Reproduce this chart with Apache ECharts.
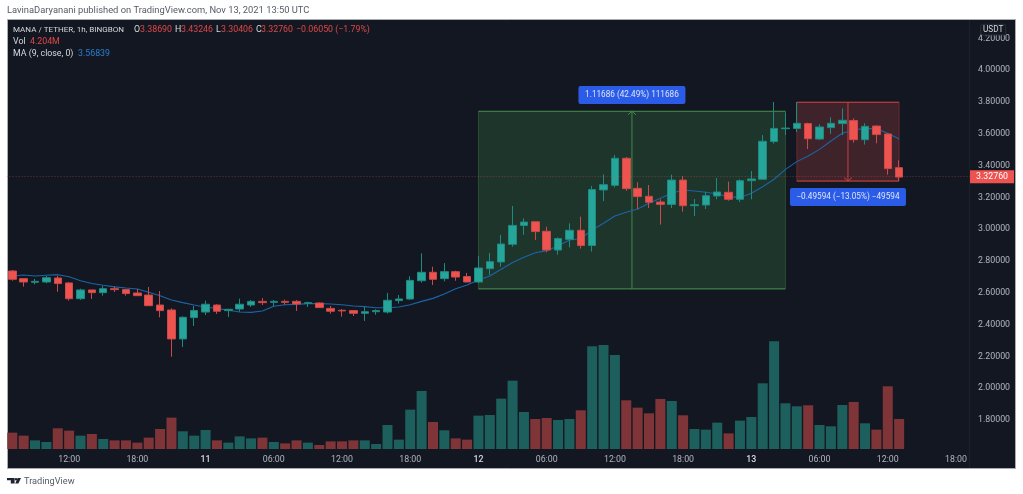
<!DOCTYPE html>
<html>
<head>
<meta charset="utf-8">
<title>MANA / TETHER</title>
<style>
  html, body { margin: 0; padding: 0; background: #fff; }
  #main { width: 1023px; height: 494px; }
</style>
</head>
<body>
<div id="main"></div>
<script src="https://cdn.jsdelivr.net/npm/echarts@6/dist/echarts.min.js"></script>
<script>
// hourly slots, Nov 10 07:00 onward (day starts are labelled with the date)
const categories = [
  '07:00','08:00','09:00','10:00','11:00','12:00','13:00','14:00','15:00','16:00','17:00','18:00',
  '19:00','20:00','21:00','22:00','23:00','11','01:00','02:00','03:00','04:00','05:00','06:00',
  '07:00','08:00','09:00','10:00','11:00','12:00','13:00','14:00','15:00','16:00','17:00','18:00',
  '19:00','20:00','21:00','22:00','23:00','12','01:00','02:00','03:00','04:00','05:00','06:00',
  '07:00','08:00','09:00','10:00','11:00','12:00','13:00','14:00','15:00','16:00','17:00','18:00',
  '19:00','20:00','21:00','22:00','23:00','13','01:00','02:00','03:00','04:00','05:00','06:00',
  '07:00','08:00','09:00','10:00','11:00','12:00','13:00','14:00','15:00','16:00','17:00','18:00',
  '19:00'
];
const timeTicks = ['06:00', '12:00', '18:00', '11', '12', '13'];
const priceTicks = [1.8, 2.0, 2.2, 2.4, 2.6, 2.8, 3.0, 3.2, 3.4, 3.6, 3.8, 4.0, 4.2];

// open, close, low, high
const candles = [
  [2.737,2.685,2.676,2.743],[2.689,2.668,2.639,2.689],[2.666,2.672,2.653,2.687],[2.668,2.695,2.660,2.706],
  [2.693,2.658,2.607,2.706],[2.662,2.563,2.551,2.666],[2.563,2.618,2.555,2.626],[2.618,2.601,2.561,2.618],
  [2.601,2.626,2.582,2.643],[2.626,2.620,2.605,2.641],[2.620,2.595,2.582,2.624],[2.599,2.582,2.582,2.624],
  [2.586,2.519,2.519,2.637],[2.523,2.488,2.446,2.611],[2.492,2.310,2.198,2.502],[2.310,2.446,2.259,2.452],
  [2.444,2.488,2.391,2.517],[2.479,2.528,2.460,2.551],[2.523,2.484,2.467,2.528],[2.488,2.496,2.448,2.500],
  [2.498,2.528,2.481,2.563],[2.523,2.546,2.511,2.555],[2.546,2.538,2.523,2.567],[2.540,2.546,2.513,2.555],
  [2.546,2.540,2.525,2.557],[2.546,2.530,2.486,2.555],[2.534,2.538,2.511,2.544],[2.536,2.507,2.504,2.540],
  [2.502,2.484,2.469,2.517],[2.490,2.486,2.450,2.498],[2.488,2.471,2.454,2.492],[2.471,2.481,2.423,2.513],
  [2.481,2.488,2.462,2.496],[2.479,2.553,2.469,2.599],[2.551,2.561,2.532,2.586],[2.561,2.678,2.555,2.704],
  [2.676,2.729,2.664,2.848],[2.729,2.685,2.649,2.764],[2.689,2.733,2.672,2.787],[2.733,2.699,2.676,2.739],
  [2.702,2.668,2.666,2.725],[2.668,2.756,2.660,2.832],[2.752,2.796,2.712,2.850],[2.794,2.907,2.764,2.964],
  [2.905,3.024,2.890,3.146],[3.024,3.045,2.964,3.068],[3.047,2.985,2.932,3.047],[2.987,2.869,2.855,3.016],
  [2.869,2.941,2.840,2.949],[2.936,2.993,2.886,3.037],[2.993,2.897,2.878,3.079],[2.897,3.249,2.859,3.272],
  [3.247,3.280,3.177,3.345],[3.276,3.446,3.263,3.467],[3.446,3.255,3.242,3.454],[3.257,3.205,3.125,3.295],
  [3.207,3.169,3.133,3.278],[3.171,3.156,3.029,3.188],[3.156,3.309,3.133,3.343],[3.309,3.148,3.110,3.335],
  [3.148,3.154,3.083,3.190],[3.152,3.211,3.127,3.236],[3.209,3.234,3.188,3.322],[3.232,3.188,3.179,3.299],
  [3.188,3.305,3.171,3.314],[3.305,3.316,3.188,3.366],[3.314,3.553,3.312,3.592],[3.551,3.634,3.538,3.800],
  [3.632,3.636,3.592,3.735],[3.634,3.666,3.611,3.800],[3.664,3.569,3.504,3.670],[3.567,3.643,3.561,3.660],
  [3.639,3.666,3.599,3.704],[3.664,3.685,3.592,3.760],[3.683,3.563,3.544,3.697],[3.563,3.647,3.532,3.666],
  [3.649,3.595,3.540,3.653],[3.599,3.381,3.343,3.603],[3.3869,3.3276,3.30406,3.43246]
];

const maValues = [
  2.706,2.712,2.706,2.710,2.714,2.701,2.676,2.658,2.647,2.637,2.630,2.624,2.603,2.582,2.555,2.538,
  2.523,2.509,2.502,2.490,2.479,2.477,2.486,2.515,2.525,2.527,2.532,2.532,2.530,2.525,2.517,2.513,
  2.506,2.506,2.511,2.525,2.546,2.565,2.592,2.626,2.649,2.680,2.706,2.748,2.790,2.823,2.852,2.865,
  2.894,2.932,2.940,2.995,3.037,3.083,3.106,3.127,3.163,3.194,3.226,3.247,3.240,3.232,3.221,3.205,
  3.200,3.226,3.267,3.314,3.376,3.425,3.460,3.502,3.555,3.603,3.624,3.634,3.632,3.603,3.568
];

// millions
const volumes = [
  2.29,1.87,1.21,0.98,2.90,2.57,1.87,2.10,1.40,1.21,1.21,0.89,1.59,2.80,4.39,2.48,
  1.87,2.66,1.21,0.89,1.77,1.49,1.59,0.98,0.79,1.21,0.89,0.56,1.07,1.07,1.21,1.21,
  0.70,3.36,1.31,5.51,8.13,3.78,2.62,1.49,1.31,4.67,4.76,7.05,9.57,5.18,4.20,4.34,
  4.06,4.20,5.42,14.38,14.57,13.17,6.82,5.79,5.00,7.01,6.72,4.72,2.80,2.71,3.69,2.19,
  3.97,4.48,9.20,15.08,6.40,5.98,6.12,3.36,3.18,6.16,6.58,3.60,2.71,8.78,4.20
];

// from slot, to slot, price at top, price at bottom
const longBox = [41, 68, 3.7416, 2.6247];
const shortBox = [69, 78, 3.7985, 3.3026];
const longText = '1.11686 (42.49%) 111686';
const shortText = '\u22120.49594 (\u221213.05%) \u221249594';
const lastPrice = 3.3276;

const upColor = '#26a69a';
const downColor = '#ef5350';
const font = 'Roboto';

let chart = echarts.init(document.getElementById('main'));

// one position tool: shaded box, top and bottom edges, middle line with arrow, blue tag
function renderBox(params, api) {
  let isLong = params.dataIndex === 0;
  let topLeft = api.coord([api.value(0), api.value(2)]);
  let bottomRight = api.coord([api.value(1), api.value(3)]);
  let x1 = topLeft[0], y1 = topLeft[1], x2 = bottomRight[0], y2 = bottomRight[1];
  let midX = (x1 + x2) / 2;
  let line = isLong ? '#43894a' : '#c94040';
  let tagW = isLong ? 107 : 116;
  let tagY = isLong ? 86 : 188;
  let arrow = isLong
    ? [[midX - 4, y1 + 3.5], [midX, y1], [midX + 4, y1 + 3.5]]
    : [[midX - 4, y2 - 3.5], [midX, y2], [midX + 4, y2 - 3.5]];
  return {
    type: 'group',
    children: [
      { type: 'rect', shape: { x: x1, y: y1, width: x2 - x1, height: y2 - y1 },
        style: { fill: isLong ? 'rgba(76,175,80,0.2)' : 'rgba(239,83,80,0.2)',
          stroke: isLong ? 'rgba(67,137,74,0.4)' : 'rgba(201,64,64,0.35)', lineWidth: 1 } },
      { type: 'line', shape: { x1: x1, y1: y1, x2: x2, y2: y1 }, style: { stroke: line, lineWidth: 1 } },
      { type: 'line', shape: { x1: x1, y1: y2, x2: x2, y2: y2 }, style: { stroke: line, lineWidth: 1 } },
      { type: 'line', shape: { x1: midX, y1: y1, x2: midX, y2: y2 }, style: { stroke: line, lineWidth: 1 } },
      { type: 'polyline', shape: { points: arrow }, style: { fill: 'none', stroke: line, lineWidth: 1 } },
      { type: 'rect', shape: { x: midX - tagW / 2, y: tagY, width: tagW, height: 18, r: 2 }, style: { fill: '#2a5ce8' } },
      { type: 'text', style: { x: midX, y: tagY + 9, text: isLong ? longText : shortText, fill: '#dde4fb',
        font: '8.2px ' + font, align: 'center', verticalAlign: 'middle' } }
    ]
  };
}

function label(x, y, text, fill, size, align) {
  return {
    type: 'text', x: x, y: y, z: 20,
    style: { text: text, fill: fill, font: (size || 8.8) + 'px ' + font, verticalAlign: 'middle', align: align || 'left' }
  };
}

const white = '#d5d8de';
const red = '#e04848';

chart.setOption({
  animation: false,
  backgroundColor: '#fff',
  graphic: [
    { type: 'rect', z: -10, silent: true, shape: { x: 7.5, y: 19.5, width: 1008, height: 449 },
      style: { fill: '#131722', stroke: '#a9acb3', lineWidth: 1 } },
    { type: 'line', z: -9, shape: { x1: 969.5, y1: 20, x2: 969.5, y2: 468 }, style: { stroke: '#1c202c', lineWidth: 1 } },
    label(7, 10.5, 'LavinaDaryanani published on TradingView.com, Nov 13, 2021 13:50 UTC', '#555a63', 9.35),
    label(13, 30, 'MANA / TETHER, 1h, BINGBON', white, 8.05),
    label(134, 30, 'O', white), label(140, 30, '3.38690', red),
    label(175, 30, 'H', white), label(181, 30, '3.43246', red),
    label(216, 30, 'L', white), label(221, 30, '3.30406', red),
    label(256, 30, 'C', white), label(261, 30, '3.32760', red),
    label(296, 30, '\u22120.06050 (\u22121.79%)', red),
    label(13, 41.5, 'Vol', white), label(30, 41.5, '4.204M', red),
    label(13, 54, 'MA (9, close, 0)', white), label(78, 54, '3.56839', '#2a7fd0'),
    { type: 'rect', z: 19, shape: { x: 980.7, y: 24.3, width: 25, height: 10.7, r: 2 },
      style: { fill: '#131722', stroke: '#2a2e39', lineWidth: 1 } },
    label(993.2, 30, 'USDT', white, 8.2, 'center'),
    // TradingView logo
    { type: 'polygon', shape: { points: [[7, 478], [14.6, 478], [14.6, 483.5], [10.8, 483.5], [10.8, 480.2], [7, 480.2]] }, style: { fill: '#1f2430' } },
    { type: 'circle', shape: { cx: 16, cy: 479.2, r: 1.2 }, style: { fill: '#1f2430' } },
    { type: 'polygon', shape: { points: [[17.6, 478], [21, 478], [18.4, 483.5], [15.2, 483.5]] }, style: { fill: '#1f2430' } },
    label(24, 481.5, 'TradingView', '#555a63', 9.2)
  ],
  grid: { left: 6.6, top: 20, width: 966.45, height: 429 },
  xAxis: {
    type: 'category',
    data: categories,
    boundaryGap: true,
    axisLine: { show: false },
    axisTick: { show: false },
    splitLine: { show: false },
    axisLabel: {
      margin: 6,
      fontFamily: font,
      fontSize: 8.8,
      color: '#b2b5be',
      interval: (index, value) => timeTicks.includes(value),
      formatter: value => value.length < 3 ? '{day|' + value + '}' : value,
      rich: { day: { fontFamily: font, fontSize: 8.8, fontWeight: 500, color: '#d5d8de' } }
    }
  },
  yAxis: [
    {
      type: 'value',
      position: 'right',
      min: 1.6176,
      max: 4.3157,
      axisLine: { show: false },
      axisTick: { show: false },
      splitLine: { show: false },
      axisLabel: {
        customValues: priceTicks,
        margin: 5,
        padding: [2, 0, 0, 0],
        fontFamily: font,
        fontSize: 8.8,
        color: '#b2b5be',
        formatter: value => value.toFixed(5)
      }
    },
    { type: 'value', min: 0, max: 60.06, show: false }
  ],
  series: [
    {
      type: 'custom',
      z: 1,
      renderItem: renderBox,
      encode: { x: [0, 1], y: [2, 3] },
      data: [longBox, shortBox],
      silent: true
    },
    {
      type: 'bar',
      z: 2,
      yAxisIndex: 1,
      barWidth: 10,
      data: volumes,
      itemStyle: {
        color: params => {
          let c = candles[params.dataIndex];
          return c[1] >= c[0] ? '#1d5f5c' : '#7f3538';
        }
      }
    },
    {
      type: 'line',
      z: 3,
      data: maValues,
      symbol: 'none',
      smooth: false,
      lineStyle: { color: '#1c64a8', width: 1.1 }
    },
    {
      type: 'candlestick',
      z: 4,
      barWidth: 8,
      data: candles,
      itemStyle: {
        color: upColor,
        color0: downColor,
        borderColor: '#1f8a80',
        borderColor0: '#c94a48',
        borderWidth: 1
      },
      markLine: {
        silent: true,
        symbol: 'none',
        lineStyle: { color: 'rgba(239,83,80,0.4)', type: [1, 2], width: 1 },
        label: {
          position: 'end',
          distance: -3,
          formatter: lastPrice.toFixed(5),
          backgroundColor: '#ef5350',
          color: '#fff',
          fontFamily: font,
          fontSize: 8.8,
          padding: [2, 6]
        },
        data: [{ yAxis: lastPrice }]
      }
    }
  ]
});
</script>
</body>
</html>
